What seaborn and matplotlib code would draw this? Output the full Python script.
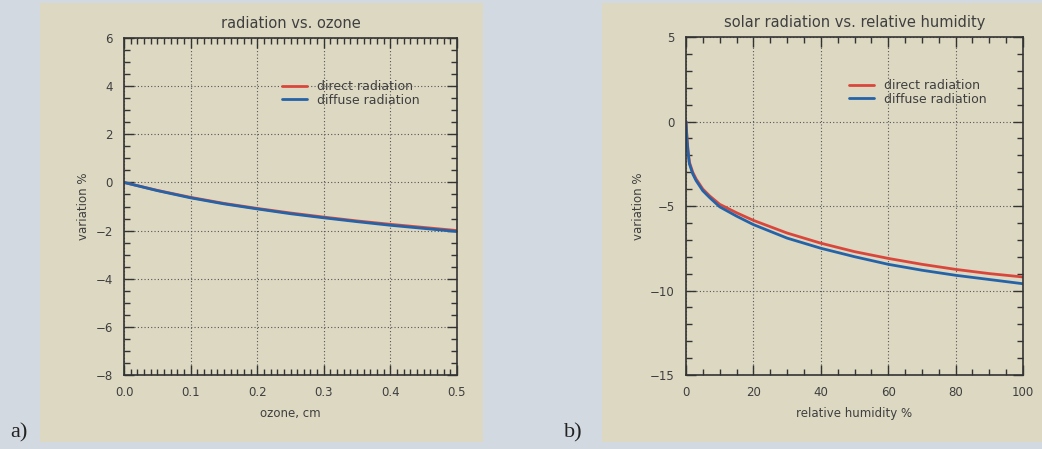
import numpy as np
import pandas as pd
import matplotlib
matplotlib.use("Agg")
import matplotlib.pyplot as plt
from matplotlib.patches import Rectangle
from matplotlib.ticker import MultipleLocator, FormatStrFormatter
import seaborn as sns

# panel a) radiation vs. ozone
ozone = [0.0, 0.05, 0.1, 0.15, 0.2, 0.25, 0.3, 0.35, 0.4, 0.45, 0.5]
ozone_direct = [0.0, -0.33, -0.62, -0.87, -1.08, -1.27, -1.44, -1.6, -1.74, -1.87, -2.0]
ozone_diffuse = [0.0, -0.34, -0.64, -0.89, -1.1, -1.3, -1.47, -1.63, -1.78, -1.91, -2.04]

# panel b) solar radiation vs. relative humidity
humidity = [0, 0.3, 0.6, 1, 2, 3, 5, 7, 10, 15, 20, 30, 40, 50, 60, 70, 80, 90, 100]
hum_direct = [0.0, -1.0, -1.7, -2.4, -3.0, -3.4, -4.0, -4.4, -4.9, -5.4, -5.85,
              -6.6, -7.2, -7.7, -8.1, -8.45, -8.75, -9.0, -9.2]
hum_diffuse = [0.0, -1.1, -1.8, -2.5, -3.1, -3.5, -4.1, -4.5, -5.05, -5.6, -6.1,
               -6.9, -7.5, -8.0, -8.45, -8.8, -9.1, -9.35, -9.6]

labels = ["direct radiation", "diffuse radiation"]
red = "#d9473c"
blue = "#2563a8"
txt = "#3f3f3f"
beige = "#dcd8c2"
bg = "#d3d9e0"

sns.set_style("ticks")
plt.rcParams["font.family"] = ["DejaVu Sans"]

W, H = 1042, 449
fig = plt.figure(figsize=(W / 100, H / 100), dpi=100)
fig.patch.set_facecolor(bg)

# beige panels behind the axes
for x0, x1 in [(40, 483), (602, 1042)]:
    fig.add_artist(Rectangle((x0 / W, 1 - 442 / H), (x1 - x0) / W, (442 - 3) / H,
                             transform=fig.transFigure, facecolor=beige,
                             edgecolor="none", zorder=-1))


def style_ax(ax, xmaj, xmin, ymaj, ymin):
    ax.set_facecolor("none")
    ax.set_zorder(1)
    ax.xaxis.set_major_locator(MultipleLocator(xmaj))
    ax.xaxis.set_minor_locator(MultipleLocator(xmin))
    ax.yaxis.set_major_locator(MultipleLocator(ymaj))
    ax.yaxis.set_minor_locator(MultipleLocator(ymin))
    ax.tick_params(which="both", direction="in", top=True, right=True,
                   colors="#333333", labelcolor=txt, labelsize=8.5)
    ax.tick_params(which="major", length=7, width=1.0, pad=8)
    ax.tick_params(which="minor", length=4, width=1.0)
    for s in ax.spines.values():
        s.set_color("#333333")
        s.set_linewidth(1.2)
    ax.grid(True, which="major", color="#555555", linestyle=(0, (1, 2)), linewidth=0.8)


# panel a
ax1 = fig.add_axes([124 / W, 1 - 375 / H, 333 / W, 337 / H])
sns.lineplot(x=ozone, y=ozone_direct, ax=ax1, color=red, lw=2, label=labels[0])
sns.lineplot(x=ozone, y=ozone_diffuse, ax=ax1, color=blue, lw=2, label=labels[1])
ax1.set_xlim(0, 0.5)
ax1.set_ylim(-8, 6)
style_ax(ax1, 0.1, 0.01, 2, 0.5)
ax1.xaxis.set_major_formatter(FormatStrFormatter("%.1f"))
ax1.set_title("radiation vs. ozone", fontsize=10.5, color=txt, pad=7)
ax1.set_xlabel("ozone, cm", fontsize=8.5, color=txt, labelpad=6)
ax1.set_ylabel("variation %", fontsize=8.5, color=txt, labelpad=4)
ax1.legend(loc="upper left", bbox_to_anchor=(0.46, 0.89), frameon=False,
           fontsize=9, handlelength=2.0, labelspacing=0.05, labelcolor=txt,
           borderaxespad=0)

# panel b
ax2 = fig.add_axes([686 / W, 1 - 375 / H, 337 / W, 338 / H])
sns.lineplot(x=humidity, y=hum_direct, ax=ax2, color=red, lw=2, label=labels[0])
sns.lineplot(x=humidity, y=hum_diffuse, ax=ax2, color=blue, lw=2, label=labels[1])
ax2.set_xlim(0, 100)
ax2.set_ylim(-15, 5)
style_ax(ax2, 20, 5, 5, 1)
ax2.set_title("solar radiation vs. relative humidity", fontsize=10.5, color=txt, pad=7)
ax2.set_xlabel("relative humidity %", fontsize=8.5, color=txt, labelpad=6)
ax2.set_ylabel("variation %", fontsize=8.5, color=txt, labelpad=4)
ax2.legend(loc="upper left", bbox_to_anchor=(0.47, 0.89), frameon=False,
           fontsize=9, handlelength=2.0, labelspacing=0.05, labelcolor=txt,
           borderaxespad=0)

fig.text(10 / W, 1 - 433 / H, "a)", family="Liberation Serif", fontsize=16,
         color="#222222", va="center")
fig.text(564 / W, 1 - 433 / H, "b)", family="Liberation Serif", fontsize=16,
         color="#222222", va="center")

fig.savefig("out.png", dpi=100, facecolor=fig.get_facecolor())
